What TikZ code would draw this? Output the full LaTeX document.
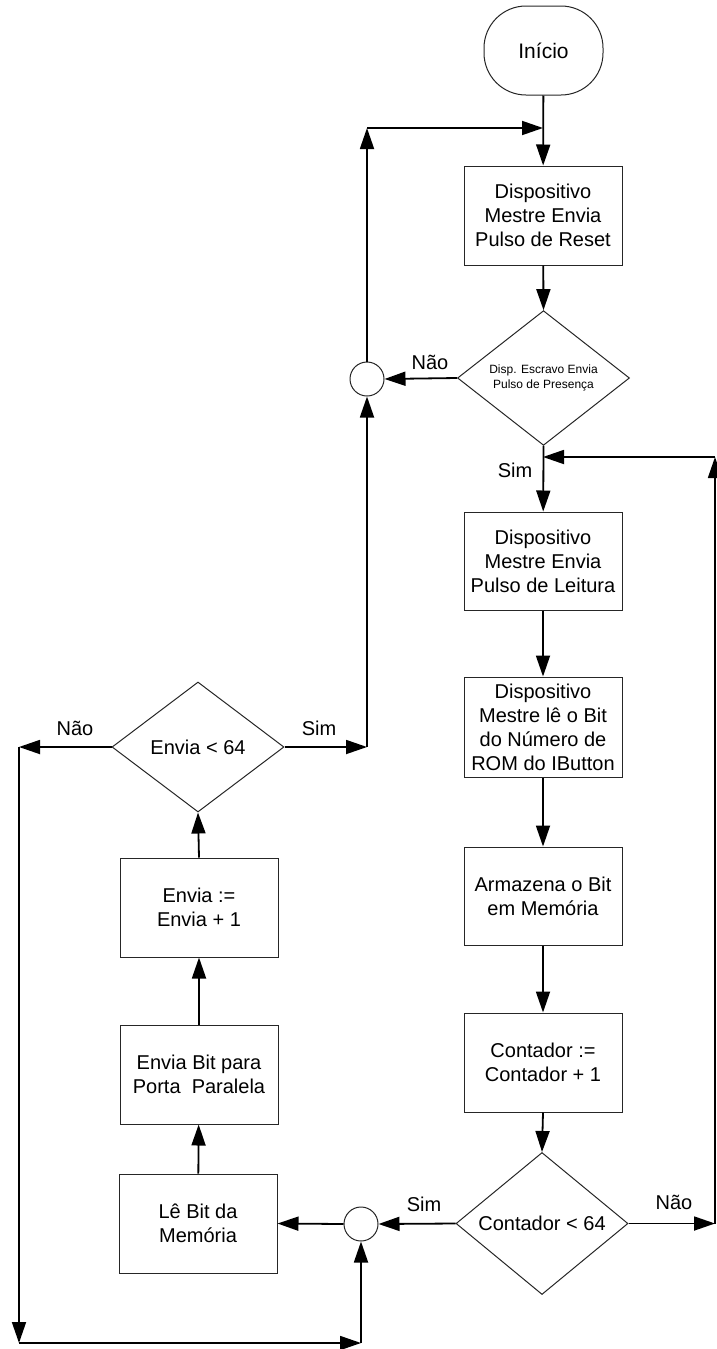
\documentclass[tikz,border=0pt]{standalone}
\usepackage{fontspec}
\setmainfont{Liberation Sans}
\usetikzlibrary{arrows.meta,shapes.geometric}
\tikzset{
  box/.style={draw=black!85, line width=1pt, minimum width=158pt, minimum height=99pt, inner sep=0pt, align=center, font=\fontsize{20pt}{24pt}\selectfont},
  decision/.style={draw=black!85, line width=1pt, shape=diamond, inner sep=0pt, minimum width=172pt, minimum height=130pt, align=center, font=\fontsize{20pt}{24pt}\selectfont},
  junction/.style={draw=black!85, line width=1pt, circle, minimum size=34pt, inner sep=0pt},
  terminal/.style={draw=black!85, line width=1pt, rounded corners=42pt, minimum width=119pt, minimum height=89pt, inner sep=0pt, font=\fontsize{21pt}{25pt}\selectfont},
  flow/.style={line width=1.8pt, -{Triangle[length=21pt,width=14pt]}},
  lbl/.style={anchor=base, font=\fontsize{20pt}{24pt}\selectfont, inner sep=0pt}
}
\begin{document}
\begin{tikzpicture}[x=1pt,y=-1pt]
\useasboundingbox (0,0) rectangle (717,1349);
% right column
\node[terminal] (start) at (543.5,50.5) {Início};
\node[box] (b1) at (543,215.5) {Dispositivo\\Mestre Envia\\Pulso de Reset};
\node[decision, font=\fontsize{12pt}{15pt}\selectfont] (d1) at (543.5,378) {Disp. Escravo Envia\\Pulso de Presença};
\node[junction] (c1) at (367,379) {};
\node[box, minimum height=98pt] (b2) at (543,561) {Dispositivo\\Mestre Envia\\Pulso de Leitura};
\node[box, minimum height=100pt] (b3) at (543,727) {Dispositivo\\Mestre lê o Bit\\do Número de\\ROM do IButton};
\node[box, minimum height=98pt] (b4) at (543,896) {Armazena o Bit\\em Memória};
\node[box] (b5) at (543,1062.5) {Contador :=\\Contador + 1};
\node[decision, minimum height=129pt] (d2) at (542,1223.5) {Contador < 64};
\node[junction] (c2) at (361,1224) {};
% left column
\node[decision] (d3) at (198,747) {Envia < 64};
\node[box] (e1) at (199,907.5) {Envia :=\\Envia + 1};
\node[box] (e2) at (199,1074.5) {Envia Bit para\\Porta\ \ Paralela};
\node[box] (e3) at (198,1223.5) {Lê Bit da\\Memória};
% coordinates
\coordinate (r1) at (715,1223.5);
\coordinate (r2) at (715,457);
\coordinate (j1) at (543,457);
\coordinate (l1) at (367,747);
\coordinate (l2) at (367,128);
\coordinate (j0) at (543,128);
\coordinate (m1) at (19,747);
\coordinate (m2) at (19,1343);
\coordinate (m3) at (361,1343);
% connectors
\draw[flow] (start) -- (b1);
\draw[flow] (b1) -- (d1.north);
\draw[flow] (d1.west) -- (c1.east);
\draw[flow] (d1.south) -- (b2);
\draw[flow] (b2) -- (b3);
\draw[flow] (b3) -- (b4);
\draw[flow] (b4) -- (b5);
\draw[flow] (b5.south) -- (d2.north);
\draw[flow] (d2.east) -- (r1);
\draw[flow] (r1) -- (r2);
\draw[flow] (r2) -- (j1);
\draw[flow] (d2.west) -- (c2.east);
\draw[flow] (c2.west) -- (e3.east);
\draw[flow] (e3) -- (e2);
\draw[flow] (e2) -- (e1);
\draw[flow] (e1.north) -- (d3.south);
\draw[flow] (d3.east) -- (l1);
\draw[flow] (l1) -- (c1.south);
\draw[flow] (c1.north) -- (l2);
\draw[flow] (l2) -- (j0);
\draw[flow] (d3.west) -- (m1);
\draw[flow] (m1) -- (m2);
\draw[flow] (m2) -- (m3);
\draw[flow] (m3) -- (c2.south);
% labels
\node[lbl] (n1) at (430,369) {Não};
\node[lbl] (s1) at (515,477) {Sim};
\node[lbl] (n3) at (75,735) {Não};
\node[lbl] (s3) at (319,735) {Sim};
\node[lbl] (s2) at (424,1211) {Sim};
\node[lbl] (n2) at (674,1209) {Não};
\end{tikzpicture}
\end{document}
